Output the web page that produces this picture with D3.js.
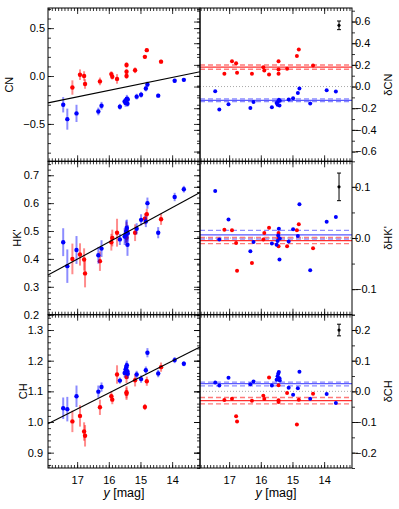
<!DOCTYPE html>
<html>
<head>
<meta charset="utf-8">
<script src="https://cdn.jsdelivr.net/npm/d3@7"></script>
<style>
  body { margin: 0; background: #fff; }
  svg text { font-family: "Liberation Sans", Arial, Helvetica, sans-serif; fill: #000; }
</style>
</head>
<body>
<div id="chart"></div>
<script>
// index strengths vs y magnitude, two groups (red / blue) plus residuals

const magRange = [17.92, 13.12];
const magTicks = [17, 16, 15, 14];

// red group
const redMag = [17.15, 16.91, 16.78, 16.75, 16.28, 15.92, 15.89, 15.74, 15.44, 15.44, 15.44, 15.17, 14.86, 14.80, 14.35];
const redCN = [-0.12, 0.014, 0.0, -0.083, -0.056, 0.02, -0.007, -0.03, 0.115, 0.045, 0.0, 0.06, 0.2, 0.27, 0.15];
const redCNerr = [0.075, 0.055, 0.05, 0.05, 0.04, 0.03, 0.03, 0.05, 0.03, 0.03, 0.03, 0.03, 0.02, 0.02, 0.02];
const redHK = [0.40, 0.416, 0.398, 0.348, 0.392, 0.46, 0.475, 0.494, 0.502, 0.49, 0.476, 0.494, 0.544, 0.56, 0.542];
const redHKerr = [0.055, 0.04, 0.04, 0.05, 0.035, 0.03, 0.03, 0.05, 0.03, 0.03, 0.03, 0.03, 0.02, 0.02, 0.02];
const redCH = [1.002, 1.02, 0.969, 0.955, 1.048, 1.084, 1.073, 1.155, 1.147, 1.097, 1.092, 1.136, 1.049, 1.133, 1.179];
const redCHerr = [0.035, 0.035, 0.03, 0.035, 0.025, 0.015, 0.015, 0.03, 0.02, 0.02, 0.02, 0.02, 0.01, 0.015, 0.015];
const redDCN = [0.118, 0.234, 0.216, 0.127, 0.118, 0.179, 0.148, 0.111, 0.234, 0.157, 0.118, 0.164, 0.281, 0.343, 0.194];
const redDHK = [0.016, 0.015, -0.01, -0.064, -0.049, -0.003, 0.010, 0.020, 0.010, -0.001, -0.016, -0.016, 0.015, 0.027, -0.02];
const redDCH = [-0.028, -0.024, -0.081, -0.098, -0.031, -0.014, -0.025, 0.045, 0.02, -0.029, -0.035, -0.005, -0.108, -0.027, -0.008];

// blue group
const blueMag = [17.44, 17.31, 17.02, 16.33, 16.23, 15.65, 15.50, 15.47, 15.45, 15.43, 15.41, 15.40, 15.12, 14.98, 14.83, 14.78, 14.44, 13.92, 13.63];
const blueCN = [-0.30, -0.45, -0.39, -0.37, -0.31, -0.32, -0.265, -0.281, -0.25, -0.237, -0.29, -0.244, -0.215, -0.195, -0.13, -0.088, -0.205, -0.05, -0.04];
const blueCNerr = [0.08, 0.11, 0.09, 0.04, 0.04, 0.03, 0.03, 0.04, 0.03, 0.04, 0.03, 0.03, 0.03, 0.03, 0.03, 0.03, 0.02, 0.02, 0.02];
const blueHK = [0.46, 0.374, 0.432, 0.413, 0.437, 0.47, 0.48, 0.487, 0.498, 0.511, 0.451, 0.492, 0.508, 0.54, 0.534, 0.60, 0.494, 0.622, 0.65];
const blueHKerr = [0.05, 0.06, 0.05, 0.03, 0.03, 0.02, 0.03, 0.03, 0.04, 0.03, 0.04, 0.03, 0.02, 0.02, 0.02, 0.02, 0.02, 0.015, 0.012];
const blueCH = [1.045, 1.042, 1.084, 1.099, 1.114, 1.135, 1.16, 1.171, 1.179, 1.185, 1.165, 1.157, 1.155, 1.140, 1.169, 1.226, 1.158, 1.202, 1.19];
const blueCHerr = [0.035, 0.04, 0.035, 0.02, 0.015, 0.01, 0.015, 0.015, 0.015, 0.015, 0.015, 0.015, 0.012, 0.012, 0.012, 0.015, 0.012, 0.01, 0.008];
const blueDCN = [-0.043, -0.213, -0.164, -0.198, -0.142, -0.19, -0.151, -0.167, -0.136, -0.123, -0.176, -0.13, -0.12, -0.108, -0.059, -0.019, -0.157, -0.034, -0.046];
const blueDHK = [0.092, -0.003, 0.036, -0.026, -0.008, -0.011, -0.013, -0.006, 0.005, 0.018, -0.042, -0.001, -0.007, 0.017, 0.004, 0.066, -0.063, 0.032, 0.041];
const blueDCH = [0.029, 0.019, 0.044, 0.023, 0.032, 0.019, 0.038, 0.049, 0.057, 0.063, 0.043, 0.035, 0.012, -0.011, 0.010, 0.064, -0.024, -0.009, -0.038];

// linear fits (value at each end of magRange)
const fitCN = [-0.28, 0.045];
const fitHK = [0.342, 0.638];
const fitCH = [0.994, 1.245];

// mean offsets of residuals: [mean, upper, lower]
const meanRed = { CN: [0.179, 0.199, 0.159], HK: [-0.005, 0.001, -0.011], CH: [-0.030, -0.020, -0.041] };
const meanBlue = { CN: [-0.127, -0.115, -0.139], HK: [0.006, 0.015, -0.002], CH: [0.025, 0.030, 0.018] };

// typical error bar drawn in the corner: [mag, value, err]
const typErr = { CN: [13.53, 0.565, 0.04], HK: [13.53, 0.1, 0.027], CH: [13.53, 0.2, 0.019] };

const W = 399, H = 509;
const colL = [48, 200], colR = [200, 352];
const rows = [[8, 161.3], [161.3, 314.7], [314.7, 468]];

const panels = [
  { key: 'CN', title: 'CN', dtitle: 'δCN', yDom: [-0.89, 0.71], yMajor: [-0.5, 0, 0.5], yMinor: 0.1,
    dDom: [-0.69, 0.725], dMajor: [-0.6, -0.4, -0.2, 0, 0.2, 0.4, 0.6], dMinor: 0.1,
    red: redCN, redE: redCNerr, blue: blueCN, blueE: blueCNerr, dRed: redDCN, dBlue: blueDCN, fit: fitCN,
    pad: 3, titleX: 13 },
  { key: 'HK', title: "HK'", dtitle: "δHK'", yDom: [0.2, 0.75], yMajor: [0.2, 0.3, 0.4, 0.5, 0.6, 0.7], yMinor: 0.02,
    dDom: [-0.15, 0.15], dMajor: [-0.1, 0, 0.1], dMinor: 0.05,
    red: redHK, redE: redHKerr, blue: blueHK, blueE: blueHKerr, dRed: redDHK, dBlue: blueDHK, fit: fitHK,
    pad: 9, titleX: 21 },
  { key: 'CH', title: 'CH', dtitle: 'δCH', yDom: [0.85, 1.35], yMajor: [0.9, 1.0, 1.1, 1.2, 1.3], yMinor: 0.02,
    dDom: [-0.25, 0.25], dMajor: [-0.2, -0.1, 0, 0.1, 0.2], dMinor: 0.05,
    red: redCH, redE: redCHerr, blue: blueCH, blueE: blueCHerr, dRed: redDCH, dBlue: blueDCH, fit: fitCH,
    pad: 5, titleX: 26.5 }
];

const RED = '#ff0000', BLUE = '#0000ff';
const fmt = d3.format('.1f');

const svg = d3.select('#chart').append('svg')
  .attr('width', W)
  .attr('height', H);

// small helper: evenly spaced minor tick values inside a domain
function minorValues(dom, step) {
  const lo = Math.min(dom[0], dom[1]), hi = Math.max(dom[0], dom[1]);
  const out = [];
  for (let v = Math.ceil(lo / step - 1e-6) * step; v <= hi + 1e-9; v += step) out.push(+v.toFixed(4));
  return out;
}

function ticks(g, axis, values, len, transform, labels, pad) {
  const a = axis.tickValues(values).tickSize(-len).tickSizeOuter(0)
    .tickPadding(pad || 3)
    .tickFormat(labels ? labels : '');
  const sel = g.append('g').attr('transform', transform).call(a);
  sel.select('.domain').remove();
  sel.selectAll('line').attr('stroke', '#000').attr('stroke-width', 0.8);
  sel.selectAll('text').attr('font-size', 11);
  return sel;
}

function xFrameTicks(g, x, y0, y1, withLabels) {
  const minor = minorValues(magRange, 0.1);
  ticks(g, d3.axisTop(x), minor, 3, `translate(0,${y0})`);
  ticks(g, d3.axisTop(x), magTicks, 6, `translate(0,${y0})`);
  ticks(g, d3.axisBottom(x), minor, 3, `translate(0,${y1})`);
  ticks(g, d3.axisBottom(x), magTicks, 6, `translate(0,${y1})`,
    withLabels ? d3.format('d') : null, 8);
}

function errorPoints(g, x, y, mags, vals, errs, color, errColor) {
  const pts = g.append('g');
  pts.selectAll('line')
    .data(mags)
    .join('line')
    .attr('x1', d => x(d)).attr('x2', d => x(d))
    .attr('y1', (d, i) => y(vals[i] - errs[i]))
    .attr('y2', (d, i) => y(vals[i] + errs[i]))
    .attr('stroke', errColor)
    .attr('stroke-width', 2);
  pts.selectAll('circle')
    .data(mags)
    .join('circle')
    .attr('cx', d => x(d))
    .attr('cy', (d, i) => y(vals[i]))
    .attr('r', 2.2)
    .attr('fill', color);
}

panels.forEach((p, row) => {
  const [y0, y1] = rows[row];
  const last = row === rows.length - 1;
  const xL = d3.scaleLinear().domain(magRange).range(colL);
  const xR = d3.scaleLinear().domain(magRange).range(colR);
  const y = d3.scaleLinear().domain(p.yDom).range([y1, y0]);
  const yd = d3.scaleLinear().domain(p.dDom).range([y1, y0]);

  // ----- left panel: index vs magnitude -----
  const gl = svg.append('g');
  errorPoints(gl, xL, y, redMag, p.red, p.redE, RED, 'rgba(255,0,0,0.45)');
  errorPoints(gl, xL, y, blueMag, p.blue, p.blueE, BLUE, 'rgba(0,0,255,0.45)');

  gl.append('line')
    .attr('x1', xL(magRange[0])).attr('x2', xL(magRange[1]))
    .attr('y1', y(p.fit[0])).attr('y2', y(p.fit[1]))
    .attr('stroke', '#000')
    .attr('stroke-width', 1.1);

  ticks(gl, d3.axisLeft(y), minorValues(p.yDom, p.yMinor), 3, `translate(${colL[0]},0)`);
  ticks(gl, d3.axisLeft(y), p.yMajor, 6, `translate(${colL[0]},0)`, fmt, p.pad);
  ticks(gl, d3.axisRight(y), minorValues(p.yDom, p.yMinor), 3, `translate(${colL[1]},0)`);
  ticks(gl, d3.axisRight(y), p.yMajor, 6, `translate(${colL[1]},0)`);
  xFrameTicks(gl, xL, y0, y1, last);

  gl.append('text')
    .attr('transform', `translate(${p.titleX},${(y0 + y1) / 2}) rotate(-90)`)
    .attr('text-anchor', 'middle')
    .attr('font-size', 11)
    .text(p.title);

  // ----- right panel: residuals -----
  const gr = svg.append('g');
  gr.append('line')
    .attr('x1', colR[0]).attr('x2', colR[1])
    .attr('y1', yd(0)).attr('y2', yd(0))
    .attr('stroke', '#aaa')
    .attr('stroke-dasharray', '1,2');

  [[meanBlue[p.key], '#5a5aff', '#8c8cff'], [meanRed[p.key], '#ff3030', '#ff7a7a']].forEach(([m, cs, cd]) => {
    gr.append('line')
      .attr('x1', colR[0]).attr('x2', colR[1])
      .attr('y1', yd(m[0])).attr('y2', yd(m[0]))
      .attr('stroke', cs).attr('stroke-width', 1.2);
    gr.selectAll(null)
      .data(m.slice(1))
      .join('line')
      .attr('x1', colR[0]).attr('x2', colR[1])
      .attr('y1', d => yd(d)).attr('y2', d => yd(d))
      .attr('stroke', cd).attr('stroke-width', 1.4)
      .attr('stroke-dasharray', '5,3');
  });

  gr.selectAll(null)
    .data(redMag)
    .join('circle')
    .attr('cx', d => xR(d))
    .attr('cy', (d, i) => yd(p.dRed[i]))
    .attr('r', 2)
    .attr('fill', RED);
  gr.selectAll(null)
    .data(blueMag)
    .join('circle')
    .attr('cx', d => xR(d))
    .attr('cy', (d, i) => yd(p.dBlue[i]))
    .attr('r', 2)
    .attr('fill', BLUE);

  // typical error
  const [tm, tv, te] = typErr[p.key];
  const tx = xR(tm);
  gr.append('line')
    .attr('x1', tx).attr('x2', tx)
    .attr('y1', yd(tv - te)).attr('y2', yd(tv + te))
    .attr('stroke', '#000').attr('stroke-width', 1);
  gr.selectAll(null)
    .data([tv - te, tv + te])
    .join('line')
    .attr('x1', tx - 2).attr('x2', tx + 2)
    .attr('y1', d => yd(d)).attr('y2', d => yd(d))
    .attr('stroke', '#000').attr('stroke-width', 1);
  gr.append('circle')
    .attr('cx', tx).attr('cy', yd(tv))
    .attr('r', 1.6).attr('fill', '#000');

  ticks(gr, d3.axisRight(yd), minorValues(p.dDom, p.dMinor), 3, `translate(${colR[0]},0)`);
  ticks(gr, d3.axisRight(yd), p.dMajor, 6, `translate(${colR[0]},0)`);
  ticks(gr, d3.axisLeft(yd), minorValues(p.dDom, p.dMinor), 3, `translate(${colR[1]},0)`);
  ticks(gr, d3.axisLeft(yd), p.dMajor, 6, `translate(${colR[1]},0)`);
  // right-hand labels sit outside the frame
  gr.append('g')
    .selectAll('text')
    .data(p.dMajor)
    .join('text')
    .attr('x', colR[1] + 3)
    .attr('y', d => yd(d))
    .attr('dy', '0.35em')
    .attr('font-size', 11)
    .text(d => fmt(d));
  xFrameTicks(gr, xR, y0, y1, last);

  gr.append('text')
    .attr('transform', `translate(392,${(y0 + y1) / 2}) rotate(-90)`)
    .attr('text-anchor', 'middle')
    .attr('font-size', 11)
    .text(p.dtitle);

  // frames
  [colL, colR].forEach(c => {
    svg.append('rect')
      .attr('x', c[0]).attr('y', y0)
      .attr('width', c[1] - c[0]).attr('height', y1 - y0)
      .attr('fill', 'none')
      .attr('stroke', '#000')
      .attr('stroke-width', 1);
  });
});

// x axis titles
[colL, colR].forEach(c => {
  const t = svg.append('text')
    .attr('x', (c[0] + c[1]) / 2)
    .attr('y', 497)
    .attr('text-anchor', 'middle')
    .attr('font-size', 12.5);
  t.append('tspan').attr('font-style', 'italic').text('y');
  t.append('tspan').text(' [mag]');
});
</script>
</body>
</html>
